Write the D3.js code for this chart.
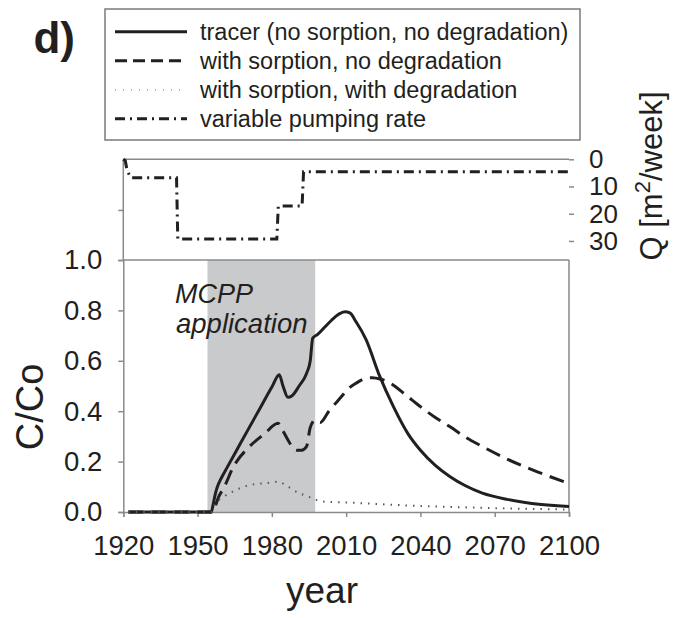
<!DOCTYPE html>
<html>
<head>
<meta charset="utf-8">
<script src="https://cdn.jsdelivr.net/npm/d3@7"></script>
<style>
  body { margin: 0; background: #fff; }
  svg { display: block; font-family: "Liberation Sans", Arial, sans-serif; }
  .axis path, .axis line { stroke: #8a8a8a; stroke-width: 1.5; }
  .axis text { fill: #231f20; }
</style>
</head>
<body>
<div id="chart"></div>
<script>
// ---- data ----
var xTicks = [1920, 1950, 1980, 2010, 2040, 2070, 2100];
var yTicks = [0, 0.2, 0.4, 0.6, 0.8, 1.0];
var qTicks = [0, 10, 20, 30];
var qLeftTicks = [18.6];

var shadeYears = [1954, 1997.5];

// tracer (no sorption, no degradation)
var tracerYear = [1922, 1955.5, 1956.3, 1957, 1958, 1959.5, 1962, 1966, 1970, 1975, 1980, 1983, 1984.5, 1986.5, 1988, 1991, 1994, 1995.5, 1996.5, 1998.5, 2001, 2004, 2007, 2009.5, 2011.5, 2014, 2018, 2023.5, 2029, 2035, 2040, 2046, 2052, 2058, 2065, 2075, 2085, 2100];
var tracerC =    [0, 0, 0.03, 0.065, 0.1, 0.133, 0.178, 0.249, 0.32, 0.408, 0.496, 0.545, 0.5, 0.455, 0.46, 0.5, 0.55, 0.6, 0.69, 0.705, 0.73, 0.76, 0.785, 0.795, 0.79, 0.755, 0.685, 0.54, 0.42, 0.31, 0.245, 0.185, 0.14, 0.105, 0.075, 0.05, 0.034, 0.022];

// with sorption, no degradation
var sorbYear = [1922, 1956, 1957, 1958.5, 1960.5, 1964.5, 1971, 1977, 1982.5, 1984, 1986.5, 1988.5, 1990, 1992, 1994, 1995.5, 1997.5, 1999.5, 2003, 2007.5, 2011, 2014, 2017, 2020.5, 2024, 2028, 2034, 2040, 2046, 2052, 2058, 2065, 2075, 2085, 2093, 2100];
var sorbC =    [0, 0, 0.02, 0.06, 0.094, 0.18, 0.26, 0.31, 0.352, 0.33, 0.286, 0.255, 0.245, 0.245, 0.26, 0.335, 0.365, 0.355, 0.4, 0.451, 0.49, 0.511, 0.527, 0.533, 0.527, 0.51, 0.465, 0.418, 0.375, 0.338, 0.298, 0.26, 0.21, 0.168, 0.138, 0.113];

// with sorption, with degradation
var degYear = [1922, 1955.5, 1957, 1960.5, 1964, 1971, 1978, 1982.5, 1986.5, 1991, 1995, 1997.5, 2000, 2010, 2020, 2030, 2045, 2060, 2080, 2100];
var degC =    [0, 0, 0.03, 0.06, 0.08, 0.107, 0.115, 0.12, 0.1, 0.075, 0.06, 0.05, 0.042, 0.038, 0.033, 0.028, 0.022, 0.018, 0.013, 0.01];

// variable pumping rate Q [m2/week]
var pumpYear = [1920, 1920.8, 1921.5, 1923, 1941.5, 1942, 1982, 1982.6, 1992.2, 1992.8, 2100];
var pumpQ =    [0, 0.5, 4, 6.8, 6.8, 29.3, 29.3, 17.2, 17.2, 4.6, 4.6];

var legendLabels = [
  "tracer (no sorption, no degradation)",
  "with sorption, no degradation",
  "with sorption, with degradation",
  "variable pumping rate"
];

// ---- layout ----
var W = 683, H = 618;
var ink = "#231f20";

var svg = d3.select("#chart").append("svg")
  .attr("width", W)
  .attr("height", H);

var x = d3.scaleLinear().domain([1920, 2100]).range([123.3, 569]);
var y = d3.scaleLinear().domain([0, 1]).range([512, 260]);
var q = d3.scaleLinear().domain([0, 37]).range([159.3, 260]);

// shaded application period
svg.append("rect")
  .attr("x", x(shadeYears[0]))
  .attr("y", y(1))
  .attr("width", x(shadeYears[1]) - x(shadeYears[0]))
  .attr("height", y(0) - y(1))
  .attr("fill", "#c9cacc");

svg.append("text")
  .attr("x", 175)
  .attr("y", 303)
  .attr("font-size", 27)
  .attr("font-style", "italic")
  .attr("fill", ink)
  .text("MCPP");
svg.append("text")
  .attr("x", 176)
  .attr("y", 333)
  .attr("font-size", 27.5)
  .attr("font-style", "italic")
  .attr("fill", ink)
  .text("application");

// frames
var frame = svg.append("g").attr("fill", "none").attr("stroke", "#8a8a8a").attr("stroke-width", 1.5);
frame.append("line").attr("x1", x(1920)).attr("x2", x(2100)).attr("y1", q(0)).attr("y2", q(0));
frame.append("line").attr("x1", x(1920)).attr("x2", x(2100)).attr("y1", y(1)).attr("y2", y(1));
frame.append("line").attr("x1", x(2100)).attr("x2", x(2100)).attr("y1", y(1)).attr("y2", y(0));
frame.append("line").attr("x1", x(1920)).attr("x2", x(1920)).attr("y1", q(0)).attr("y2", y(1));

// axes
var xAxis = svg.append("g")
  .attr("class", "axis")
  .attr("transform", "translate(0," + y(0) + ")")
  .call(d3.axisBottom(x).tickValues(xTicks).tickFormat(d3.format("d")).tickSize(5).tickPadding(18));
xAxis.selectAll("text").attr("font-size", 27.5);

var yAxis = svg.append("g")
  .attr("class", "axis")
  .attr("transform", "translate(" + x(1920) + ",0)")
  .call(d3.axisLeft(y).tickValues(yTicks).tickFormat(d3.format(".1f")).tickSize(5).tickPadding(16));
yAxis.selectAll("text").attr("font-size", 27.5);

var qAxis = svg.append("g")
  .attr("class", "axis")
  .attr("transform", "translate(" + x(2100) + ",0)")
  .call(d3.axisRight(q).tickValues(qTicks).tickSize(5).tickPadding(15));
qAxis.select(".domain").remove();
qAxis.selectAll("text").attr("font-size", 26);

var qLeft = svg.append("g")
  .attr("class", "axis")
  .attr("transform", "translate(" + x(1920) + ",0)")
  .call(d3.axisLeft(q).tickValues(qLeftTicks).tickFormat("").tickSize(5));
qLeft.select(".domain").remove();

// axis titles
svg.append("text")
  .attr("x", 322)
  .attr("y", 603)
  .attr("text-anchor", "middle")
  .attr("font-size", 37)
  .attr("fill", ink)
  .text("year");

svg.append("text")
  .attr("transform", "translate(43,407) rotate(-90)")
  .attr("text-anchor", "middle")
  .attr("font-size", 38)
  .attr("fill", ink)
  .text("C/Co");

var qTitle = svg.append("text")
  .attr("transform", "translate(662,176) rotate(-90)")
  .attr("text-anchor", "middle")
  .attr("font-size", 31)
  .attr("fill", ink);
qTitle.append("tspan").text("Q [m");
qTitle.append("tspan").attr("font-size", 22).attr("dy", -12).text("2");
qTitle.append("tspan").attr("dy", 12).text("/week]");

svg.append("text")
  .attr("x", 75)
  .attr("y", 53)
  .attr("text-anchor", "end")
  .attr("font-size", 44)
  .attr("font-weight", "bold")
  .attr("fill", ink)
  .text("d)");

// curves
var styles = [
  { stroke: ink, width: 3, dash: null },
  { stroke: ink, width: 3, dash: "15,8" },
  { stroke: "#5a5a5a", width: 2, dash: "1.5,6" },
  { stroke: ink, width: 3, dash: "10,5,2,5" }
];

var line = d3.line()
  .x(function(d) { return x(d[0]); })
  .y(function(d) { return y(d[1]); })
  .curve(d3.curveMonotoneX);

var qLine = d3.line()
  .x(function(d) { return x(d[0]); })
  .y(function(d) { return q(d[1]); });

var series = [
  d3.zip(tracerYear, tracerC),
  d3.zip(sorbYear, sorbC),
  d3.zip(degYear, degC)
];

series.forEach(function(s, i) {
  svg.append("path")
    .datum(s)
    .attr("d", line)
    .attr("fill", "none")
    .attr("stroke", styles[i].stroke)
    .attr("stroke-width", styles[i].width)
    .attr("stroke-dasharray", styles[i].dash);
});

svg.append("path")
  .datum(d3.zip(pumpYear, pumpQ))
  .attr("d", qLine)
  .attr("fill", "none")
  .attr("stroke", styles[3].stroke)
  .attr("stroke-width", styles[3].width)
  .attr("stroke-dasharray", styles[3].dash);

// legend
var legend = svg.append("g");
legend.append("rect")
  .attr("x", 105)
  .attr("y", 9)
  .attr("width", 475)
  .attr("height", 131)
  .attr("fill", "#fff")
  .attr("stroke", "#7a7a7a")
  .attr("stroke-width", 1.5);

var rows = legend.selectAll("g.row")
  .data(legendLabels)
  .enter()
  .append("g")
    .attr("class", "row")
    .attr("transform", function(d, i) { return "translate(0," + (31.7 + i * 29) + ")"; });

rows.append("line")
  .attr("x1", 115)
  .attr("x2", 187)
  .attr("stroke", function(d, i) { return i == 2 ? "#9a9a9a" : styles[i].stroke; })
  .attr("stroke-width", function(d, i) { return i == 2 ? 1.5 : 3; })
  .attr("stroke-dasharray", function(d, i) { return i == 2 ? "1,7" : (i == 1 ? "12,6" : styles[i].dash); });

rows.append("text")
  .attr("x", 200)
  .attr("y", 8.5)
  .attr("font-size", 23.5)
  .attr("fill", ink)
  .text(function(d) { return d; });
</script>
</body>
</html>
